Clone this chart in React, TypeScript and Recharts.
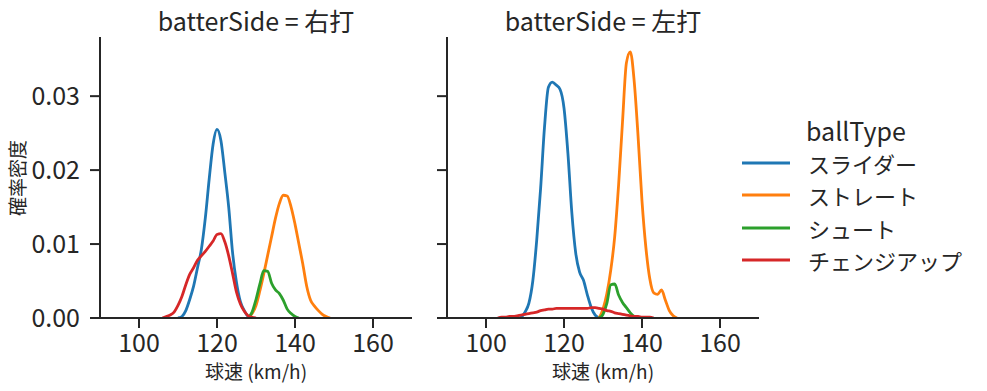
import React from "react";
import { LineChart, Line, XAxis, YAxis } from "recharts";

// ---- data ----
const SERIES_NAMES = ["スライダー", "ストレート", "シュート", "チェンジアップ"];
const SERIES_COLORS = ["#1f77b4", "#ff7f0e", "#2ca02c", "#d62728"];
const PANEL_TITLES = ["batterSide = 右打", "batterSide = 左打"];
const X_TICKS = [100, 120, 140, 160];
const Y_TICKS = [0, 0.01, 0.02, 0.03];
const X_DOMAIN = [90, 170];
const Y_DOMAIN = [0, 0.038];

// 右打 (right-handed batters): start speed + density per 1 km/h
const R_SLIDER_START = 110;
const R_SLIDER = [0, 0.0002, 0.001, 0.0025, 0.0043, 0.0068, 0.0093, 0.0135, 0.0188, 0.0235, 0.0255, 0.024, 0.0197, 0.015, 0.0088, 0.0048, 0.0022, 0.001, 0.0002, 0];
const R_STRAIGHT_START = 128;
const R_STRAIGHT = [0, 0.0006, 0.0017, 0.0037, 0.006, 0.0085, 0.011, 0.0135, 0.0155, 0.0166, 0.0165, 0.015, 0.0127, 0.01, 0.0073, 0.0043, 0.0024, 0.0016, 0.001, 0.0005, 0.0002, 0];
const R_SHOOT_START = 128;
const R_SHOOT = [0, 0.0008, 0.0025, 0.0046, 0.0064, 0.0063, 0.0047, 0.0038, 0.0033, 0.0024, 0.0012, 0.0006, 0.0002, 0];
const R_CHANGE_START = 106;
const R_CHANGE = [0, 0.0002, 0.0004, 0.0008, 0.0017, 0.0029, 0.0045, 0.0059, 0.0068, 0.0078, 0.0084, 0.009, 0.0097, 0.0104, 0.0113, 0.0114, 0.0103, 0.0084, 0.006, 0.0035, 0.0019, 0.0009, 0.0003, 0.0001, 0];

// 左打 (left-handed batters)
const L_SLIDER_START = 108;
const L_SLIDER = [0, 0.0001, 0.0008, 0.002, 0.005, 0.0105, 0.0175, 0.0258, 0.0312, 0.0319, 0.0315, 0.0309, 0.0284, 0.0223, 0.0143, 0.0088, 0.0062, 0.0051, 0.0031, 0.0014, 0.0004, 0];
const L_STRAIGHT_START = 129;
const L_STRAIGHT = [0, 0.0012, 0.0033, 0.0065, 0.011, 0.018, 0.0265, 0.0345, 0.036, 0.032, 0.0245, 0.0158, 0.0095, 0.0053, 0.0034, 0.0032, 0.0038, 0.0024, 0.001, 0.0003, 0];
const L_SHOOT_START = 129;
const L_SHOOT = [0, 0.0005, 0.002, 0.0045, 0.0046, 0.0031, 0.0021, 0.0014, 0.0007, 0.0002, 0];
const L_CHANGE_START = 103;
const L_CHANGE = [0, 0.0001, 0.0001, 0.0002, 0.0002, 0.0003, 0.0004, 0.0005, 0.0006, 0.0007, 0.0008, 0.001, 0.0011, 0.0012, 0.0012, 0.0013, 0.0013, 0.0013, 0.0013, 0.0013, 0.0013, 0.0013, 0.0013, 0.0013, 0.0014, 0.0014, 0.0013, 0.0012, 0.001, 0.0009, 0.0007, 0.0006, 0.0005, 0.0004, 0.0003, 0.0002, 0.0002, 0.0001, 0.0001, 0.0001, 0];

const toPoints = (start: number, vals: number[]) => vals.map((y, i) => ({ x: start + i, y }));

const PANELS = [
  [
    toPoints(R_SLIDER_START, R_SLIDER),
    toPoints(R_STRAIGHT_START, R_STRAIGHT),
    toPoints(R_SHOOT_START, R_SHOOT),
    toPoints(R_CHANGE_START, R_CHANGE),
  ],
  [
    toPoints(L_SLIDER_START, L_SLIDER),
    toPoints(L_STRAIGHT_START, L_STRAIGHT),
    toPoints(L_SHOOT_START, L_SHOOT),
    toPoints(L_CHANGE_START, L_CHANGE),
  ],
];

const FONT = "'Noto Sans CJK JP', 'Noto Sans', sans-serif";
const INK = "#262626";
const TICK_FONT = 25;
const LEGEND_FONT = 22;
const LABEL_FONT = 19;
const LINE_W = 2.8;

function Panel({ series, showYLabels, yAxisWidth, width, marginRight }: any) {
  return (
    <LineChart
      width={width}
      height={391}
      margin={{ top: 37, right: marginRight, bottom: 0, left: 0 }}
    >
      <XAxis
        dataKey="x"
        type="number"
        domain={X_DOMAIN}
        ticks={X_TICKS}
        allowDataOverflow
        height={73}
        axisLine={{ stroke: INK, strokeWidth: 2 }}
        tickLine={{ stroke: INK, strokeWidth: 2 }}
        tickSize={10}
        tickMargin={6}
        tick={{ fill: INK, fontSize: TICK_FONT, fontFamily: FONT }}
      />
      <YAxis
        type="number"
        domain={Y_DOMAIN}
        ticks={Y_TICKS}
        allowDataOverflow
        width={yAxisWidth}
        axisLine={{ stroke: INK, strokeWidth: 2 }}
        tickLine={{ stroke: INK, strokeWidth: 2 }}
        tickSize={10}
        tickMargin={10}
        tickFormatter={(v: number) => (showYLabels ? v.toFixed(2) : "")}
        tick={{ fill: INK, fontSize: TICK_FONT, fontFamily: FONT }}
      />
      {series.map((pts: any[], i: number) => (
        <Line
          key={SERIES_NAMES[i]}
          data={pts}
          dataKey="y"
          name={SERIES_NAMES[i]}
          type="monotone"
          stroke={SERIES_COLORS[i]}
          strokeWidth={LINE_W}
          dot={false}
          activeDot={false}
          isAnimationActive={false}
        />
      ))}
    </LineChart>
  );
}

export default function App() {
  const abs = (o: any) => ({ position: "absolute" as const, ...o });
  const textBase = { fontFamily: FONT, color: INK, whiteSpace: "nowrap" as const };
  return (
    <div style={abs({ left: 0, top: 0, width: 987, height: 391, background: "#fff", overflow: "hidden" })}>
      <div style={abs({ left: 0, top: 0 })}>
        <Panel series={PANELS[0]} showYLabels yAxisWidth={100} width={420} marginRight={8} />
      </div>
      <div style={abs({ left: 420, top: 0 })}>
        <Panel series={PANELS[1]} showYLabels={false} yAxisWidth={27} width={350} marginRight={11} />
      </div>
      {/* panel titles */}
      <div style={abs({ left: 100, width: 312, top: 3, textAlign: "center", fontSize: TICK_FONT, lineHeight: "34px", ...textBase })}>
        {PANEL_TITLES[0]}
      </div>
      <div style={abs({ left: 447, width: 312, top: 3, textAlign: "center", fontSize: TICK_FONT, lineHeight: "34px", ...textBase })}>
        {PANEL_TITLES[1]}
      </div>
      {/* axis labels */}
      <div style={abs({ left: 100, width: 312, top: 357, textAlign: "center", fontSize: LABEL_FONT, lineHeight: "28px", ...textBase })}>
        球速 (km/h)
      </div>
      <div style={abs({ left: 447, width: 312, top: 357, textAlign: "center", fontSize: LABEL_FONT, lineHeight: "28px", ...textBase })}>
        球速 (km/h)
      </div>
      <div
        style={abs({
          left: 17,
          top: 178,
          transform: "translate(-50%, -50%) rotate(-90deg)",
          fontSize: LABEL_FONT,
          lineHeight: "24px",
          ...textBase,
        })}
      >
        確率密度
      </div>
      {/* legend */}
      <div style={abs({ left: 806, top: 113, fontSize: TICK_FONT, lineHeight: "34px", ...textBase })}>ballType</div>
      {SERIES_NAMES.map((name, i) => (
        <div key={name} style={abs({ left: 742, top: 150 + i * 32.4, height: 26, display: "flex", alignItems: "center" })}>
          <svg width={48} height={26} style={{ display: "block" }}>
            <line x1={0} x2={48} y1={13} y2={13} stroke={SERIES_COLORS[i]} strokeWidth={LINE_W} />
          </svg>
          <span style={{ marginLeft: 18, fontSize: LEGEND_FONT, lineHeight: "26px", ...textBase }}>{name}</span>
        </div>
      ))}
    </div>
  );
}
